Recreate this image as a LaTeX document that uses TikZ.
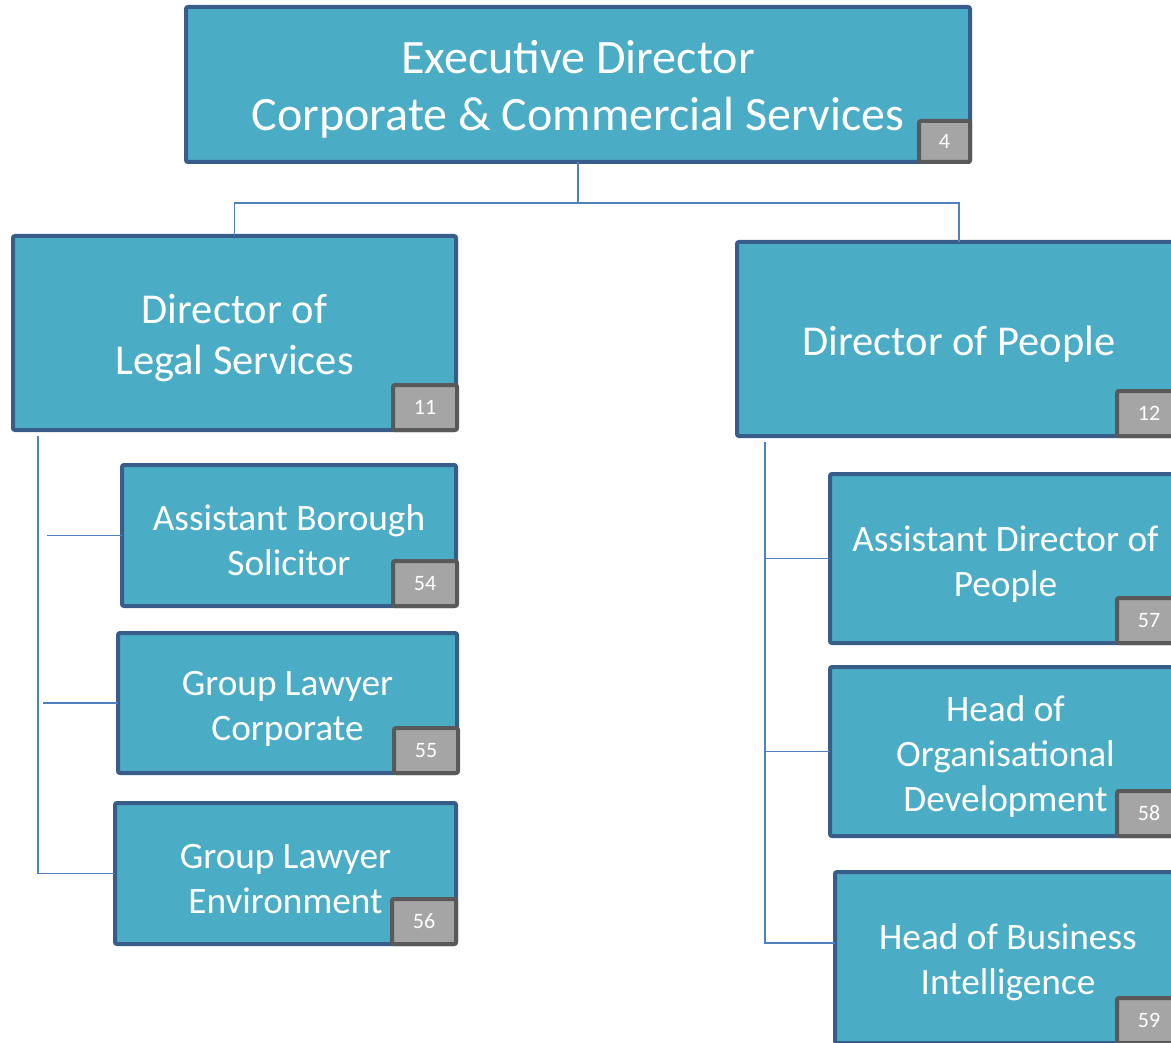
\documentclass[tikz,border=0pt]{standalone}
\usepackage{fontspec}
\setmainfont{Carlito}
\usetikzlibrary{positioning}
\definecolor{postfill}{HTML}{4BACC6}
\definecolor{postline}{HTML}{385D8A}
\definecolor{linkline}{HTML}{4F81BD}
\definecolor{numfill}{HTML}{A5A5A5}
\definecolor{numline}{HTML}{595959}
\newcommand{\padtop}{\rule{0pt}{\dimexpr0.7em+10pt\relax}}

\begin{document}
\begin{tikzpicture}[x=1pt,y=-1pt,
  post/.style={draw=postline, fill=postfill, line width=4pt, rounded corners=2pt,
    text=white, align=center, inner sep=0pt, outer sep=0pt},
  big/.style={font=\fontsize{48}{57}\selectfont},
  mid/.style={font=\fontsize{42.5}{51}\selectfont},
  small/.style={font=\fontsize{37.3}{45}\selectfont},
  num/.style={draw=numline, fill=numfill, line width=4pt, rounded corners=2pt,
    text=white, font=\fontsize{22}{24}\selectfont, inner sep=0pt, outer sep=0pt,
    minimum width=64pt, minimum height=45pt, anchor=south east},
  link/.style={draw=linkline, line width=1.6pt}]

\clip (0,0) rectangle (1171,1043);

% define the posts
  \node[post, big, minimum width=784pt, minimum height=155pt] (top) at (578,84.5)
{\padtop Executive Director\\Corporate \& Commercial Services};
  \node[post, mid, minimum width=443pt, minimum height=194pt] (legal) at (234.5,333)
{\padtop Director of\\Legal Services};
  \node[post, mid, minimum width=444pt, minimum height=194pt] (people) at (959,339)
{\padtop Director of People};
  \node[post, small, minimum width=334pt, minimum height=141pt] (abs) at (289,535.5)
{\padtop Assistant Borough\\Solicitor};
  \node[post, small, minimum width=339pt, minimum height=140pt] (glc) at (287.5,703)
{\padtop Group Lawyer\\Corporate};
  \node[post, small, minimum width=341pt, minimum height=141pt] (gle) at (285.5,873.5)
{\padtop Group Lawyer\\Environment};
  \node[post, small, minimum width=351pt, minimum height=169pt] (adp) at (1005.5,558.5)
{\padtop Assistant Director of\\People};
  \node[post, small, minimum width=351pt, minimum height=169pt] (hod) at (1005.5,751.5)
{\padtop Head of\\Organisational\\Development};
  \node[post, small, minimum width=346pt, minimum height=171pt] (hbi) at (1008,957.5)
{\padtop Head of Business\\Intelligence};

% define the numbers
  \node[num, minimum width=51pt, minimum height=41pt] (n4) at (top.south east) {4};
  \node[num] (n11) at ([xshift=1pt]legal.south east) {11};
  \node[num] (n12) at (people.south east) {12};
  \node[num] (n54) at ([xshift=1pt]abs.south east) {54};
  \node[num] (n55) at ([xshift=1pt]glc.south east) {55};
  \node[num] (n56) at (gle.south east) {56};
  \node[num] (n57) at (adp.south east) {57};
  \node[num] (n58) at (hod.south east) {58};
  \node[num] (n59) at (hbi.south east) {59};

% define the links
  \coordinate (hub) at (578,203);
  \coordinate (lt) at (38,436);
  \coordinate (s54) at (47,535.5);
  \coordinate (s55) at (43,703);
  \coordinate (rt) at (765,442);
  \coordinate (rb) at (765,943);

  \draw[link] (top.south) -- (hub) -| (legal.north);
  \draw[link] (hub) -| (people.north);
  \draw[link] (lt) |- (gle.west);
  \draw[link] (s54) -- (abs.west);
  \draw[link] (s55) -- (glc.west);
  \draw[link] (rt) -- (rb) -- (rb -| hbi.west);
  \draw[link] (rt |- adp.west) -- (adp.west);
  \draw[link] (rt |- hod.west) -- (hod.west);

\end{tikzpicture}
\end{document}
